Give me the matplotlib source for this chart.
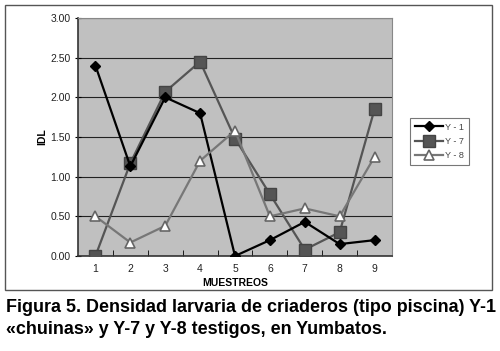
import matplotlib.pyplot as plt
from matplotlib.patches import Rectangle

# Data
muestreos = [1, 2, 3, 4, 5, 6, 7, 8, 9]
y1 = [2.40, 1.13, 2.00, 1.80, 0.00, 0.20, 0.43, 0.15, 0.20]
y7 = [0.00, 1.17, 2.07, 2.45, 1.48, 0.78, 0.08, 0.30, 1.85]
y8 = [0.50, 0.17, 0.38, 1.20, 1.58, 0.50, 0.60, 0.50, 1.25]
yticks = [0.0, 0.5, 1.0, 1.5, 2.0, 2.5, 3.0]

plt.rcParams['font.family'] = ['Liberation Sans', 'DejaVu Sans']

fig = plt.figure(figsize=(5.0, 3.51), dpi=100)
W, H = 500, 351

# outer chart frame
fig.patches.append(Rectangle((5 / W, 1 - 290 / H), 487 / W, 285 / H,
                             transform=fig.transFigure, fill=False,
                             edgecolor='#555555', linewidth=1.0))

ax = fig.add_axes([78 / W, 1 - 256 / H, 314 / W, 238 / H])
ax.set_facecolor('#c0c0c0')

ax.plot(muestreos, y1, color='black', linewidth=1.6, marker='D',
        markersize=5.5, markerfacecolor='black', label='Y - 1', zorder=4)
ax.plot(muestreos, y7, color='#555555', linewidth=1.6, marker='s',
        markersize=8, markerfacecolor='#555555', markeredgecolor='#444444',
        label='Y - 7', zorder=3)
ax.plot(muestreos, y8, color='#777777', linewidth=1.6, marker='^',
        markersize=7, markerfacecolor='white', markeredgecolor='#666666',
        markeredgewidth=1.2, label='Y - 8', zorder=5)

ax.set_xlim(0.5, 9.5)
ax.set_ylim(0, 3)
ax.set_yticks(yticks)
ax.set_yticklabels([f'{v:.2f}' for v in yticks], fontsize=7.5, color='#222222')
ax.set_xticks(muestreos)
ax.set_xticklabels([str(m) for m in muestreos], fontsize=7.5, color='#222222')
ax.set_xticks([m + 0.5 for m in muestreos[:-1]], minor=True)
ax.tick_params(axis='x', which='major', length=0, pad=6)
ax.tick_params(axis='x', which='minor', length=4, direction='in')
ax.tick_params(axis='y', length=4, direction='inout')
ax.grid(axis='y', color='#222222', linewidth=0.8)
ax.set_axisbelow(True)
for side in ['top', 'right']:
    ax.spines[side].set_color('#888888')
for side in ['left', 'bottom']:
    ax.spines[side].set_color('#333333')
    ax.spines[side].set_linewidth(1.2)

ax.set_xlabel('MUESTREOS', fontsize=7.5, fontweight='bold', labelpad=3)
ax.set_ylabel('IDL', fontsize=7.5, fontweight='bold', labelpad=2)

leg = ax.legend(loc='upper left', bbox_to_anchor=(410 / W, 1 - 118 / H),
                bbox_transform=fig.transFigure, fontsize=6.5,
                frameon=True, fancybox=False, edgecolor='#555555',
                handlelength=3.2, borderpad=0.5, labelspacing=0.6,
                handletextpad=0.2, borderaxespad=0)
leg.get_frame().set_linewidth(0.8)
for t in leg.get_texts():
    t.set_color('#444444')

fig.text(6 / W, 1 - 307 / H,
         'Figura 5. Densidad larvaria de criaderos (tipo piscina) Y-1',
         fontsize=12.9, fontweight='bold', va='center', ha='left')
fig.text(6 / W, 1 - 329 / H,
         '«chuinas» y Y-7 y Y-8 testigos, en Yumbatos.',
         fontsize=12.9, fontweight='bold', va='center', ha='left')

fig.savefig('out.png', dpi=100)
